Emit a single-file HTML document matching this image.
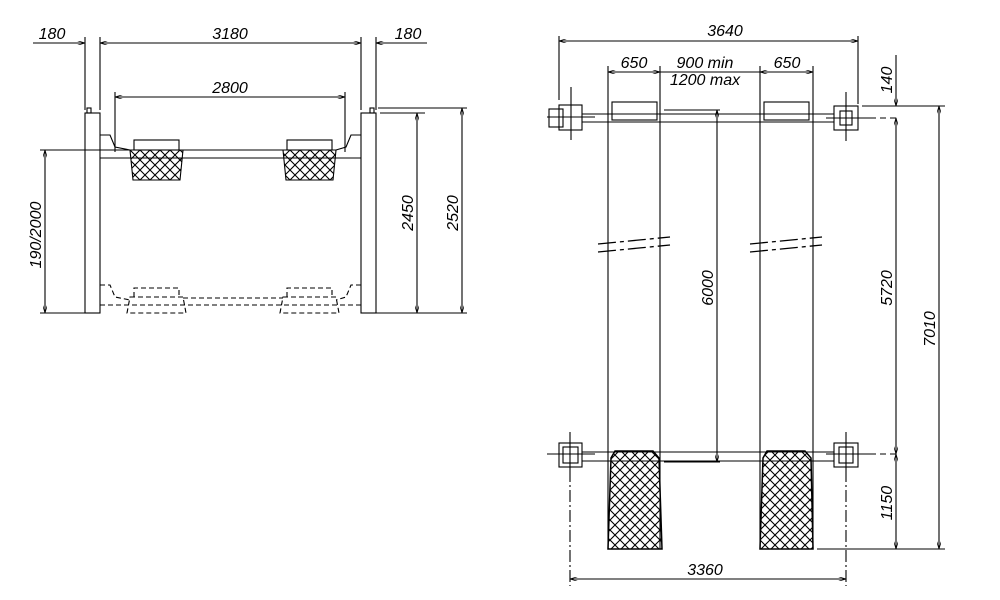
<!DOCTYPE html>
<html><head><style>body{margin:0;background:#fff}svg{display:block}</style></head><body>
<svg width="1000" height="600" viewBox="0 0 1000 600" xmlns="http://www.w3.org/2000/svg">
<defs>
<pattern id="x" width="10" height="10" patternUnits="userSpaceOnUse">
<path d="M0 0L10 10M10 0L0 10" stroke="#000" stroke-width="1.1"/>
</pattern>
<marker id="a" viewBox="0 0 10 6" refX="10" refY="3" markerWidth="8" markerHeight="4" orient="auto-start-reverse"><path d="M0 0L10 3L0 6" fill="none" stroke="#000"/></marker>
</defs>
<g stroke="#000" stroke-width="1.1" fill="none">
<!-- LEFT VIEW -->
<rect x="85" y="113" width="15" height="200"/>
<rect x="361" y="113" width="15" height="200"/>
<rect x="87" y="108" width="4" height="5"/><rect x="370" y="108" width="4" height="5"/>
<line x1="85" y1="37" x2="85" y2="110"/><line x1="100" y1="37" x2="100" y2="110"/>
<line x1="361" y1="37" x2="361" y2="110"/><line x1="376" y1="37" x2="376" y2="110"/>
<line x1="33" y1="43" x2="85" y2="43" marker-end="url(#a)"/>
<line x1="100" y1="43" x2="361" y2="43" marker-start="url(#a)" marker-end="url(#a)"/>
<line x1="376" y1="43" x2="427" y2="43" marker-start="url(#a)"/>
<line x1="115" y1="92" x2="115" y2="152"/><line x1="345" y1="92" x2="345" y2="152"/>
<line x1="115" y1="97" x2="345" y2="97" marker-start="url(#a)" marker-end="url(#a)"/>
<line x1="40" y1="150" x2="130" y2="150"/>
<line x1="100" y1="158" x2="361" y2="158"/>
<line x1="183" y1="150" x2="283" y2="150"/>
<path d="M100 135L110 135L115 147L130 150M361 135L351 135L346 147L336 150"/>
<rect x="134" y="140" width="45" height="10"/><rect x="287" y="140" width="45" height="10"/>
<path d="M130 150L183 150L180 180L133 180Z" fill="url(#x)"/>
<path d="M283 150L336 150L333 180L286 180Z" fill="url(#x)"/>
<g stroke-dasharray="5,3">
<path d="M100 285L110 285L115 297L130 300M361 285L351 285L346 297L336 300"/>
<path d="M134 297L134 288L179 288L179 297M287 297L287 288L332 288L332 297"/>
<path d="M130 297L183 297L186 313L127 313ZM283 297L336 297L339 313L280 313Z"/>
<line x1="183" y1="298" x2="283" y2="298"/><line x1="100" y1="305" x2="361" y2="305"/>
</g>
<line x1="40" y1="313" x2="85" y2="313"/>
<line x1="45" y1="150" x2="45" y2="313" marker-start="url(#a)" marker-end="url(#a)"/>
<line x1="380" y1="113" x2="425" y2="113"/>
<line x1="378" y1="108" x2="467" y2="108"/>
<line x1="376" y1="313" x2="467" y2="313"/>
<line x1="417" y1="113" x2="417" y2="313" marker-start="url(#a)" marker-end="url(#a)"/>
<line x1="462" y1="108" x2="462" y2="313" marker-start="url(#a)" marker-end="url(#a)"/>
<!-- RIGHT VIEW -->
<line x1="559" y1="36" x2="559" y2="100"/><line x1="858" y1="36" x2="858" y2="104"/>
<line x1="559" y1="41" x2="858" y2="41" marker-start="url(#a)" marker-end="url(#a)"/>
<line x1="608" y1="66" x2="608" y2="110"/><line x1="660" y1="66" x2="660" y2="110"/>
<line x1="760" y1="66" x2="760" y2="110"/><line x1="813" y1="66" x2="813" y2="110"/>
<line x1="608" y1="72" x2="660" y2="72" marker-start="url(#a)" marker-end="url(#a)"/>
<line x1="660" y1="72" x2="760" y2="72"/>
<line x1="760" y1="72" x2="813" y2="72" marker-start="url(#a)" marker-end="url(#a)"/>
<line x1="608" y1="110" x2="608" y2="549"/><line x1="660" y1="110" x2="660" y2="549"/>
<line x1="760" y1="110" x2="760" y2="549"/><line x1="813" y1="110" x2="813" y2="549"/>
<path d="M598 244L670 237M598 252L670 245M750 244L822 237M750 252L822 245" stroke-dasharray="18,4,4,4" stroke-width="1.3"/>
<line x1="582" y1="114" x2="834" y2="114"/><line x1="582" y1="122" x2="834" y2="122"/>
<rect x="612" y="102" width="45" height="18"/><rect x="764" y="102" width="45" height="18"/>
<line x1="664" y1="110" x2="720" y2="110"/>
<rect x="559" y="105" width="23" height="25"/><rect x="549" y="109" width="14" height="18"/>
<line x1="571" y1="87" x2="571" y2="140"/><line x1="547" y1="117" x2="595" y2="117"/>
<rect x="834" y="106" width="24" height="24"/><rect x="840" y="111" width="12" height="14"/>
<line x1="846" y1="92" x2="846" y2="141"/><line x1="826" y1="118" x2="870" y2="118"/>
<line x1="870" y1="118" x2="900" y2="118" stroke-dasharray="6,4"/>
<line x1="862" y1="106" x2="945" y2="106"/>
<line x1="582" y1="452" x2="834" y2="452"/><line x1="582" y1="461" x2="834" y2="461"/>
<line x1="664" y1="462" x2="720" y2="462"/>
<rect x="559" y="443" width="23" height="24"/><rect x="563" y="447" width="15" height="16"/>
<line x1="570" y1="432" x2="570" y2="470"/><line x1="547" y1="454" x2="595" y2="454"/>
<rect x="834" y="443" width="24" height="24"/><rect x="839" y="447" width="14" height="16"/>
<line x1="846" y1="432" x2="846" y2="470"/><line x1="826" y1="454" x2="870" y2="454"/>
<line x1="870" y1="454" x2="900" y2="454" stroke-dasharray="6,4"/>
<path d="M615 451L653 451L659 458L662 549L608 549L611 458Z" fill="url(#x)" stroke-width="1.5"/>
<path d="M767 451L805 451L811 458L813 549L760 549L763 458Z" fill="url(#x)" stroke-width="1.5"/>
<line x1="570" y1="470" x2="570" y2="586" stroke-dasharray="12,3,2,3"/>
<line x1="846" y1="470" x2="846" y2="586" stroke-dasharray="12,3,2,3"/>
<line x1="570" y1="579" x2="846" y2="579" marker-start="url(#a)" marker-end="url(#a)"/>
<line x1="817" y1="549" x2="945" y2="549"/>
<line x1="717" y1="110" x2="717" y2="462" marker-start="url(#a)" marker-end="url(#a)"/>
<line x1="896" y1="55" x2="896" y2="106" marker-end="url(#a)"/>
<line x1="896" y1="118" x2="896" y2="454" marker-start="url(#a)" marker-end="url(#a)"/>
<line x1="896" y1="454" x2="896" y2="549" marker-start="url(#a)" marker-end="url(#a)"/>
<line x1="939" y1="106" x2="939" y2="549" marker-start="url(#a)" marker-end="url(#a)"/>
</g>
<g font-family="Liberation Sans, sans-serif" font-style="italic" font-size="16" fill="#000" text-anchor="middle">
<text x="52" y="39">180</text><text x="230" y="39">3180</text><text x="408" y="39">180</text>
<text x="230" y="93">2800</text>
<text transform="translate(41,235) rotate(-90)">190/2000</text>
<text transform="translate(413,213) rotate(-90)">2450</text>
<text transform="translate(458,213) rotate(-90)">2520</text>
<text x="725" y="36">3640</text>
<text x="634" y="68">650</text><text x="705" y="68">900  min</text><text x="787" y="68">650</text>
<text x="705" y="85">1200  max</text>
<text transform="translate(713,288) rotate(-90)">6000</text>
<text transform="translate(892,288) rotate(-90)">5720</text>
<text transform="translate(935,329) rotate(-90)">7010</text>
<text transform="translate(892,80) rotate(-90)">140</text>
<text transform="translate(892,503) rotate(-90)">1150</text>
<text x="705" y="575">3360</text>
</g>
</svg>
</body></html>
